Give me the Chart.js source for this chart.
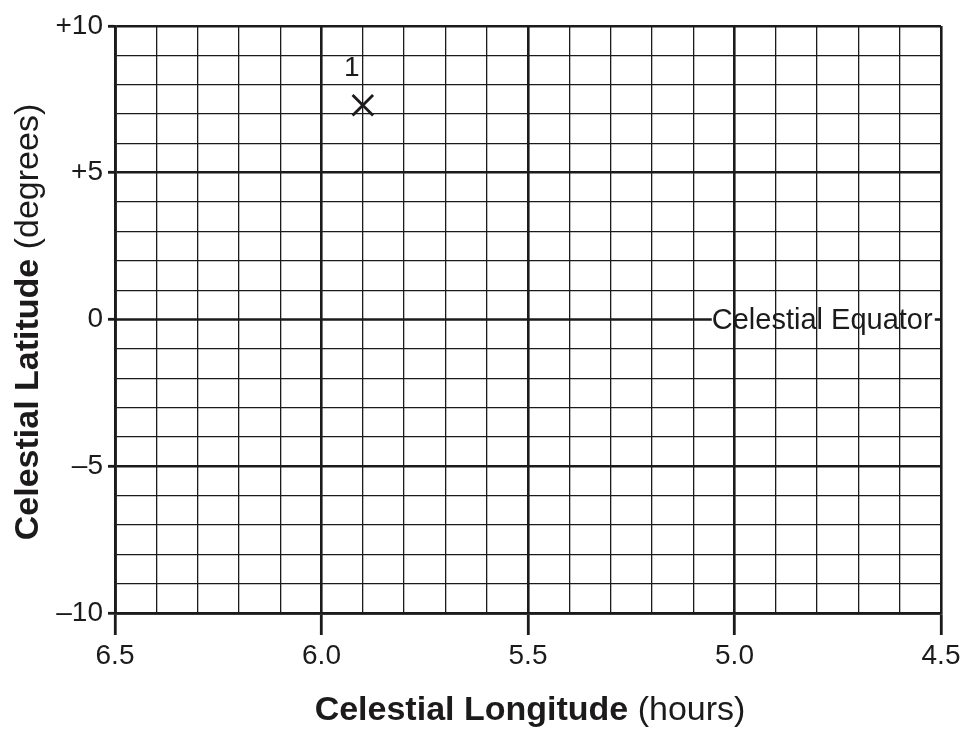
<!DOCTYPE html>
<html>
<head>
<meta charset="utf-8">
<script src="https://cdn.jsdelivr.net/npm/chart.js@4/dist/chart.umd.min.js"></script>
<style>
    html, body { margin: 0; padding: 0; background: #fff; }
    canvas { display: block; }
</style>
</head>
<body>
<canvas id="graph-1" width="967" height="744"></canvas>
<script>

// axis ranges and labels
const lonMin = 4.5
const lonMax = 6.5
const latMin = -10
const latMax = 10

const lonTicks      = [6.5, 6.0, 5.5, 5.0, 4.5]
const lonTickLabels = ['6.5', '6.0', '5.5', '5.0', '4.5']
const latTicks      = [10, 5, 0, -5, -10]
const latTickLabels = ['+10', '+5', '0', '\u20135', '\u201310']

// plotted star
const starNames = ['1']
const starLon   = [5.9]
const starLat   = [7.3]

// celestial equator line (broken by its label)
const equatorLon  = [6.5, 5.055]
const equatorLat  = [0, 0]
const equatorTail = [4.515, 4.5]
const equatorName = 'Celestial Equator'

const xTitle = ['Celestial Longitude', ' (hours)']
const yTitle = ['Celestial Latitude', ' (degrees)']

const ink  = '#1c1a1b'
const face = '"Liberation Sans", Arial, Helvetica, sans-serif'

const near = (a, b) => Math.abs(a - b) < 1e-6
const isMajor = (v, step) => near(v / step, Math.round(v / step))

const labelFor = (list, labels, v) => {
    let i = list.findIndex(t => near(t, v))
    return i < 0 ? '' : labels[i]
}

const drawMixed = (c, parts, cx, cy, size) => {
    c.font = `bold ${size}px ${face}`
    let w1 = c.measureText(parts[0]).width
    c.font = `${size}px ${face}`
    let w2 = c.measureText(parts[1]).width
    let start = cx - (w1 + w2) / 2
    c.textAlign = 'left'
    c.textBaseline = 'middle'
    c.font = `bold ${size}px ${face}`
    c.fillText(parts[0], start, cy)
    c.font = `${size}px ${face}`
    c.fillText(parts[1], start + w1, cy)
}

const textPlugin = {
    id: 'textPlugin',
    afterDraw(chart) {

        let c = chart.ctx
        let x = chart.scales.x
        let y = chart.scales.y
        let area = chart.chartArea

        c.save()
        c.fillStyle = ink

        // equator label
        c.font = `29px ${face}`
        c.textAlign = 'left'
        c.textBaseline = 'middle'
        c.fillText(equatorName, x.getPixelForValue(equatorLon[equatorLon.length - 1]), y.getPixelForValue(0) + 1)

        // star names
        c.font = `28px ${face}`
        c.textAlign = 'center'
        starNames.forEach((name, i) => {
            c.fillText(name, x.getPixelForValue(starLon[i]) - 11, y.getPixelForValue(starLat[i]) - 37)
        })

        // axis titles
        drawMixed(c, xTitle, 530, 711, 34)

        c.translate(29, 322)
        c.rotate(-Math.PI / 2)
        drawMixed(c, yTitle, 0, 0, 34)

        c.restore()
    }
}

let graph1 = {
    type: 'scatter',
    data: {
        datasets: [{
            type: 'line',
            data: equatorLon.map((v, i) => ({ x: v, y: equatorLat[i] })),
            borderColor: ink,
            borderWidth: 2.6,
            pointRadius: 0
        },{
            type: 'line',
            data: equatorTail.map(v => ({ x: v, y: 0 })),
            borderColor: ink,
            borderWidth: 2.6,
            pointRadius: 0
        },{
            data: starLon.map((v, i) => ({ x: v, y: starLat[i] })),
            pointStyle: 'crossRot',
            pointRadius: 14.5,
            pointBorderWidth: 2.8,
            borderColor: ink,
            backgroundColor: ink
        }]
    },
    options: {
        responsive: false,
        animation: false,
        events: [],
        layout: {
            padding: { top: 26, right: 26, left: 0, bottom: 0 }
        },
        plugins: {
            legend: { display: false },
            tooltip: { enabled: false },
            title: { display: false }
        },
        scales: {
            x: {
                type: 'linear',
                min: lonMin,
                max: lonMax,
                reverse: true,
                afterFit: scale => { scale.height = 131 },
                border: { display: true, color: ink, width: 2.8 },
                grid: {
                    color: ink,
                    lineWidth: ctx => ctx.tick && isMajor(ctx.tick.value, 0.5) ? 2.6 : 1.3,
                    tickColor: ctx => ctx.tick && isMajor(ctx.tick.value, 0.5) ? ink : 'rgba(0,0,0,0)',
                    tickLength: 22,
                    tickWidth: 2.8
                },
                ticks: {
                    stepSize: 0.1,
                    autoSkip: false,
                    maxRotation: 0,
                    padding: 4,
                    color: ink,
                    font: { family: face, size: 28 },
                    callback: value => labelFor(lonTicks, lonTickLabels, value)
                }
            },
            y: {
                type: 'linear',
                min: latMin,
                max: latMax,
                afterFit: scale => { scale.width = 115 },
                border: { display: true, color: ink, width: 2.8 },
                grid: {
                    color: ctx => ctx.tick && near(ctx.tick.value, 0) ? 'rgba(0,0,0,0)' : ink,
                    lineWidth: ctx => ctx.tick && isMajor(ctx.tick.value, 5) ? 2.6 : 1.3,
                    tickColor: ctx => ctx.tick && isMajor(ctx.tick.value, 5) ? ink : 'rgba(0,0,0,0)',
                    tickLength: 7,
                    tickWidth: 2.8
                },
                ticks: {
                    stepSize: 1,
                    autoSkip: false,
                    padding: 5,
                    color: ink,
                    font: { family: face, size: 28 },
                    callback: value => labelFor(latTicks, latTickLabels, value)
                }
            }
        }
    },
    plugins: [textPlugin]
}

let canvas = document.getElementById('graph-1')
let ctx = canvas.getContext('2d')
let chart = new Chart(ctx, graph1)

</script>
</body>
</html>
